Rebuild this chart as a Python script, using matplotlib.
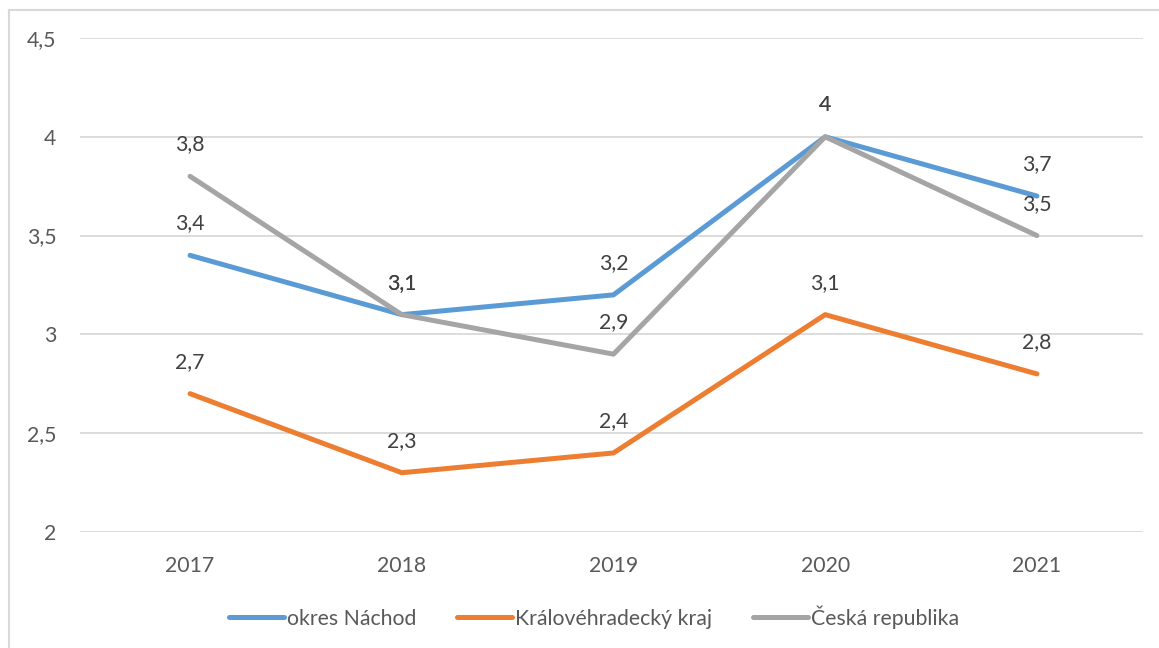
import matplotlib
matplotlib.use("Agg")
import matplotlib.pyplot as plt
from matplotlib.lines import Line2D

years = ["2017", "2018", "2019", "2020", "2021"]
nachod = [3.4, 3.1, 3.2, 4.0, 3.7]
kraj = [2.7, 2.3, 2.4, 3.1, 2.8]
cr = [3.8, 3.1, 2.9, 4.0, 3.5]
series_names = ["okres Náchod", "Královéhradecký kraj", "Česká republika"]
colors = ["#5B9BD5", "#ED7D31", "#A5A5A5"]
yticks = [2, 2.5, 3, 3.5, 4, 4.5]

plt.rcParams['font.family'] = ['Lato', 'DejaVu Sans']
FS = 15.3

fig = plt.figure(figsize=(11.59, 6.48), dpi=100)
ax = fig.add_axes([0.069, 0.179, 0.917, 0.7624])

x = list(range(len(years)))
for vals, c, name in zip([nachod, kraj, cr], colors, series_names):
    ax.plot(x, vals, color=c, lw=3.6, solid_capstyle='round', solid_joinstyle='round', label=name)

def fmt(v):
    s = ("%g" % v)
    return s.replace(".", ",")

for vals in [nachod, kraj, cr]:
    for xi, v in zip(x, vals):
        ax.annotate(fmt(v), (xi, v), xytext=(0, 23), textcoords='offset points',
                    ha='center', va='center', fontsize=FS, color='#404040')

ax.set_xlim(-0.52, 4.5)
ax.set_ylim(2, 4.5)
ax.set_yticks(yticks)
ax.set_yticklabels([fmt(t) for t in yticks])
ax.set_xticks(x)
ax.set_xticklabels(years)
ax.tick_params(axis='both', length=0, labelsize=FS, labelcolor='#595959')
ax.tick_params(axis='x', pad=17.5)
ax.tick_params(axis='y', pad=17)
ax.grid(axis='y', color='#D9D9D9', lw=1.3)
ax.set_axisbelow(True)
for s in ax.spines.values():
    s.set_visible(False)

# outer border
fig.add_artist(Line2D([9/1159, 9/1159], [0, 1-10/648], transform=fig.transFigure, color='#D9D9D9', lw=1.5))
fig.add_artist(Line2D([9/1159, 1], [1-10/648, 1-10/648], transform=fig.transFigure, color='#D9D9D9', lw=1.5))

handles = [Line2D([], [], color=c, lw=3.6, solid_capstyle='round') for c in colors]
fig.legend(handles, series_names, loc='center', bbox_to_anchor=(0.5125, 1-617/648), ncol=3,
           frameon=False, fontsize=FS, labelcolor='#595959', handlelength=2.6,
           handletextpad=0.15, columnspacing=1.9)

fig.savefig("out.png", dpi=100)
